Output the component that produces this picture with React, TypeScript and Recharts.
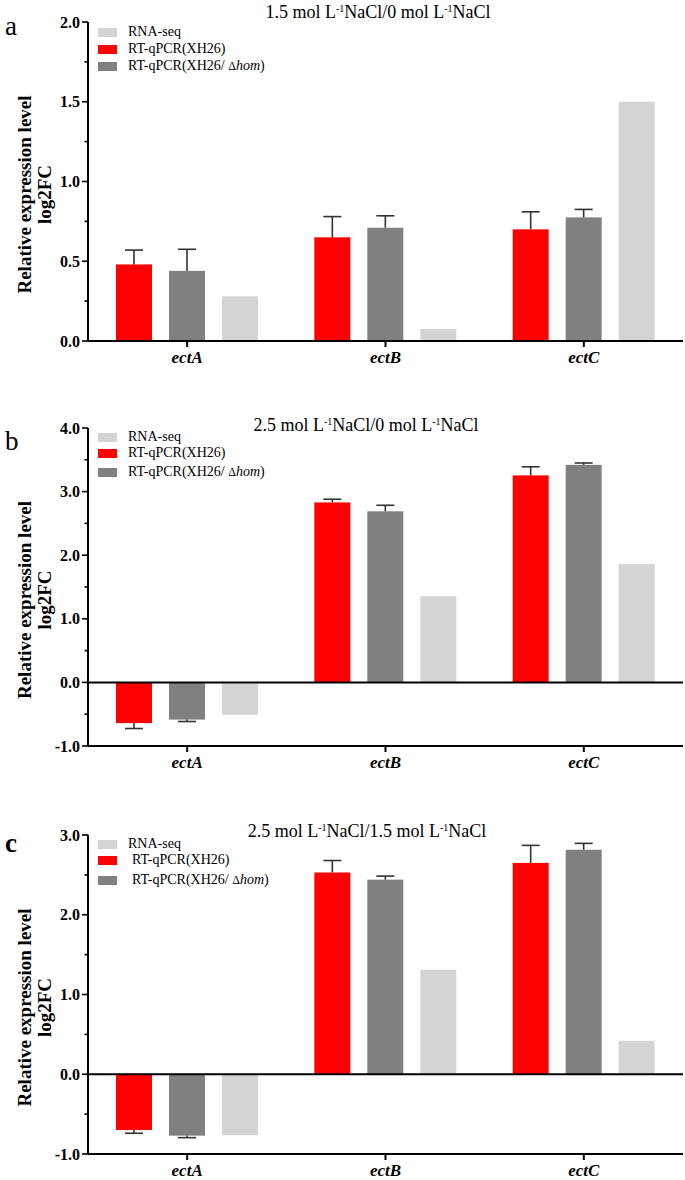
import React from "react";
import { BarChart, Bar, XAxis, YAxis, ReferenceLine } from "recharts";

// categories
const genes = ["ectA", "ectB", "ectC"];

// a: 1.5 mol/L vs 0 mol/L NaCl
const aXH26 = [0.48, 0.65, 0.7];
const aXH26Err = [0.09, 0.13, 0.11];
const aHom = [0.44, 0.71, 0.775];
const aHomErr = [0.135, 0.075, 0.05];
const aRna = [0.28, 0.075, 1.5];

// b: 2.5 mol/L vs 0 mol/L NaCl
const bXH26 = [-0.64, 2.83, 3.255];
const bXH26Err = [0.085, 0.05, 0.135];
const bHom = [-0.585, 2.69, 3.42];
const bHomErr = [0.03, 0.095, 0.03];
const bRna = [-0.51, 1.355, 1.86];

// c: 2.5 mol/L vs 1.5 mol/L NaCl
const cXH26 = [-0.7, 2.53, 2.65];
const cXH26Err = [0.04, 0.15, 0.22];
const cHom = [-0.77, 2.44, 2.815];
const cHomErr = [0.025, 0.045, 0.08];
const cRna = [-0.765, 1.31, 0.42];

// y ticks (majors get a label)
const ticksA = [0, 0.25, 0.5, 0.75, 1, 1.25, 1.5, 1.75, 2];
const majorsA = [0, 0.5, 1, 1.5, 2];
const ticksB = [-1, -0.5, 0, 0.5, 1, 1.5, 2, 2.5, 3, 3.5, 4];
const majorsB = [-1, 0, 1, 2, 3, 4];
const ticksC = [-1, -0.5, 0, 0.5, 1, 1.5, 2, 2.5, 3];
const majorsC = [-1, 0, 1, 2, 3];

const RED = "#ff0000";
const DARK = "#808080";
const LIGHT = "#d4d4d4";
const ERR = "#333333";
const FONT = "'Liberation Serif', 'Times New Roman', serif";

const buildRows = (
  xh26: number[],
  xh26Err: number[],
  hom: number[],
  homErr: number[],
  rna: number[]
) =>
  genes.map((gene, i) => ({
    gene,
    xh26: xh26[i],
    xh26Err: xh26Err[i],
    hom: hom[i],
    homErr: homErr[i],
    rna: rna[i],
  }));

// bar with a one-sided error bar pointing away from zero
const BarWithError = (props: any) => {
  const { x, y, width, height, fill, payload, valKey, errKey } = props;
  if (x == null || y == null) return null;
  const top = height < 0 ? y + height : y;
  const h = Math.abs(height);
  const rect = <rect x={x} y={top} width={width} height={h} fill={fill} />;
  if (!errKey) return rect;
  const value = payload[valKey];
  const pxPerUnit = h / Math.abs(value);
  const errPx = payload[errKey] * pxPerUnit;
  const end = value >= 0 ? y - errPx : y + errPx;
  const cx = x + width / 2;
  return (
    <g>
      {rect}
      <line x1={cx} x2={cx} y1={y} y2={end} stroke={ERR} strokeWidth={1.6} />
      <line x1={cx - 9} x2={cx + 9} y1={end} y2={end} stroke={ERR} strokeWidth={1.6} />
    </g>
  );
};

const ValueTick = (props: any) => {
  const { x, y, payload, majors } = props;
  const isMajor = majors.includes(payload.value);
  return (
    <g>
      <line x1={x - (isMajor ? 6 : 3.5)} x2={x} y1={y} y2={y} stroke="#000" strokeWidth={1.6} />
      {isMajor && (
        <text
          x={x - 8}
          y={y}
          dy={5.5}
          textAnchor="end"
          fontFamily={FONT}
          fontWeight="bold"
          fontSize={16}
          fill="#000"
        >
          {payload.value.toFixed(1)}
        </text>
      )}
    </g>
  );
};

const GeneTick = (props: any) => {
  const { x, y, payload } = props;
  return (
    <g>
      <line x1={x} x2={x} y1={y} y2={y + 6} stroke="#000" strokeWidth={2} />
      <text
        x={x}
        y={y + 22}
        textAnchor="middle"
        fontFamily={FONT}
        fontWeight="bold"
        fontStyle="italic"
        fontSize={17}
        fill="#000"
      >
        {payload.value}
      </text>
    </g>
  );
};

const YLabel = ({ viewBox }: any) => {
  if (!viewBox) return null;
  const cy = viewBox.y + viewBox.height / 2 + 13;
  const line = (text: string, cx: number) => (
    <text
      x={cx}
      y={cy}
      transform={`rotate(-90 ${cx} ${cy})`}
      textAnchor="middle"
      fontFamily={FONT}
      fontWeight="bold"
      fontSize={19}
      fill="#000"
    >
      {text}
    </text>
  );
  return (
    <g>
      {line("Relative expression level", 30.5)}
      {line("log2FC", 50.5)}
    </g>
  );
};

const Title = ({ num, den }: { num: string; den: string }) => (
  <>
    {num} mol L<span style={{ fontSize: 10, verticalAlign: 6 }}>-1</span>NaCl/{den} mol L
    <span style={{ fontSize: 10, verticalAlign: 6 }}>-1</span>NaCl
  </>
);

const legendColors = [LIGHT, RED, DARK];

const LegendBox = ({ rows, indent }: { rows: number[]; indent: boolean }) => (
  <>
    {rows.map((cy, i) => (
      <div
        key={i}
        style={{
          position: "absolute",
          left: 98,
          top: cy - 9,
          height: 18,
          display: "flex",
          alignItems: "center",
          fontFamily: FONT,
          fontSize: 14,
          whiteSpace: "nowrap",
        }}
      >
        <span style={{ width: 19, height: 9, background: legendColors[i], display: "inline-block" }} />
        <span style={{ marginLeft: indent && i > 0 ? 15 : 11 }}>
          {i === 0 && "RNA-seq"}
          {i === 1 && "RT-qPCR(XH26)"}
          {i === 2 && (
            <>
              RT-qPCR(XH26/ <span style={{ fontSize: 12 }}>Δ</span>
              <i>hom</i>)
            </>
          )}
        </span>
      </div>
    ))}
  </>
);

type PanelProps = {
  top: number;
  height: number;
  margin: { top: number; right: number; bottom: number; left: number };
  xAxisHeight: number;
  data: any[];
  domain: [number, number];
  ticks: number[];
  majors: number[];
  letter: string;
  letterTop: number;
  letterBold?: boolean;
  num: string;
  den: string;
  titleTop: number;
  titleCenter: number;
  legendRows: number[];
  indent?: boolean;
  zeroLine: boolean;
};

const Panel = (p: PanelProps) => (
  <div style={{ position: "absolute", left: 0, top: p.top, width: 685, height: p.height }}>
    <BarChart
      width={685}
      height={p.height}
      data={p.data}
      margin={p.margin}
      barSize={36}
      barGap={17}
    >
      <XAxis
        dataKey="gene"
        height={p.xAxisHeight}
        interval={0}
        axisLine={{ stroke: "#000", strokeWidth: 2 }}
        tickLine={false}
        tickSize={0}
        tickMargin={0}
        tick={<GeneTick />}
      />
      <YAxis
        type="number"
        width={88}
        domain={p.domain}
        ticks={p.ticks}
        interval={0}
        axisLine={{ stroke: "#000", strokeWidth: 2 }}
        tickLine={false}
        tickSize={0}
        tickMargin={0}
        tick={<ValueTick majors={p.majors} />}
        label={{ content: (lp: any) => <YLabel viewBox={lp.viewBox} /> }}
      />
      <Bar
        dataKey="xh26"
        fill={RED}
        isAnimationActive={false}
        shape={(sp: any) => <BarWithError {...sp} valKey="xh26" errKey="xh26Err" />}
      />
      <Bar
        dataKey="hom"
        fill={DARK}
        isAnimationActive={false}
        shape={(sp: any) => <BarWithError {...sp} valKey="hom" errKey="homErr" />}
      />
      <Bar
        dataKey="rna"
        fill={LIGHT}
        isAnimationActive={false}
        shape={(sp: any) => <BarWithError {...sp} valKey="rna" />}
      />
      {p.zeroLine && <ReferenceLine y={0} stroke="#000" strokeWidth={2} />}
    </BarChart>

    <div
      style={{
        position: "absolute",
        left: 5,
        top: p.letterTop - p.top,
        fontFamily: FONT,
        fontSize: 27,
        lineHeight: "27px",
        fontWeight: p.letterBold ? "bold" : "normal",
      }}
    >
      {p.letter}
    </div>
    <div
      style={{
        position: "absolute",
        left: p.titleCenter - 200,
        width: 400,
        top: p.titleTop - p.top,
        textAlign: "center",
        fontFamily: FONT,
        fontSize: 18,
        lineHeight: "18px",
        whiteSpace: "nowrap",
      }}
    >
      <Title num={p.num} den={p.den} />
    </div>
    <div style={{ position: "absolute", left: 0, top: -p.top }}>
      <LegendBox rows={p.legendRows} indent={!!p.indent} />
    </div>
  </div>
);

const App = () => (
  <div style={{ position: "absolute", left: 0, top: 0, width: 685, height: 1180, background: "#fff" }}>
    <Panel
      top={0}
      height={390}
      margin={{ top: 22, right: 2, bottom: 19, left: 0 }}
      xAxisHeight={30}
      data={buildRows(aXH26, aXH26Err, aHom, aHomErr, aRna)}
      domain={[0, 2]}
      ticks={ticksA}
      majors={majorsA}
      letter="a"
      letterTop={13}
      num="1.5"
      den="0"
      titleTop={0}
      titleCenter={378}
      legendRows={[32, 49, 66]}
      zeroLine={false}
    />
    <Panel
      top={390}
      height={410}
      margin={{ top: 38, right: 2, bottom: 24, left: 0 }}
      xAxisHeight={30}
      data={buildRows(bXH26, bXH26Err, bHom, bHomErr, bRna)}
      domain={[-1, 4]}
      ticks={ticksB}
      majors={majorsB}
      letter="b"
      letterTop={428}
      num="2.5"
      den="0"
      titleTop={413}
      titleCenter={366}
      legendRows={[437, 453, 472]}
      zeroLine={true}
    />
    <Panel
      top={800}
      height={380}
      margin={{ top: 35, right: 2, bottom: 0, left: 0 }}
      xAxisHeight={26}
      data={buildRows(cXH26, cXH26Err, cHom, cHomErr, cRna)}
      domain={[-1, 3]}
      ticks={ticksC}
      majors={majorsC}
      letter="c"
      letterTop={830}
      letterBold
      num="2.5"
      den="1.5"
      titleTop={819}
      titleCenter={367}
      legendRows={[844, 860, 880]}
      indent
      zeroLine={true}
    />
  </div>
);

export default App;
